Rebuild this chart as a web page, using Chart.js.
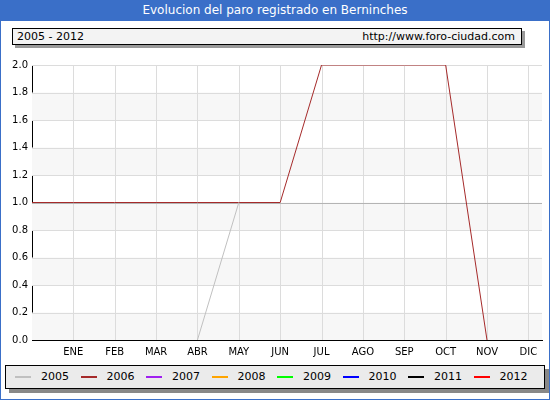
<!DOCTYPE html>
<html>
<head>
<meta charset="utf-8">
<script src="https://cdn.jsdelivr.net/npm/chart.js@4"></script>
<style>
  body { margin: 0; width: 550px; height: 400px; position: relative; font-family: "DejaVu Sans", Verdana, sans-serif; background: #fff; overflow: hidden; }
  #frame { position: absolute; left: 0; top: 0; width: 548px; height: 398px; border: 1px solid #3a6fc8; }
  #title { position: absolute; left: 0; top: 0; width: 550px; height: 21px; background: #3a6fc8; color: #fff; font-size: 12px; text-align: center; line-height: 21px; }
  #head { position: absolute; left: 12px; top: 28px; width: 508px; height: 15px; border: 1px solid #000; background: #f3f3f3; font-size: 11px; line-height: 15px; box-shadow: 3px 3px 0 #999; }
  #head span { position: absolute; top: 0; }
  #legend { position: absolute; left: 5px; top: 365px; width: 538px; height: 22px; border: 1px solid #000; background: #ebebeb; font-size: 11px; box-shadow: 4px 4px 0 #888; }
  .it { position: absolute; top: 5px; line-height: 12px; }
  .it i { display: inline-block; width: 16px; height: 2px; vertical-align: middle; margin-right: 10px; }
  #myChart { position: absolute; left: 0; top: 55px; }
</style>
</head>
<body>
<div id="frame"></div>
<div id="title">Evolucion del paro registrado en Berninches</div>
<div id="head"><span style="left:4px">2005 - 2012</span><span style="right:6px">http://www.foro-ciudad.com</span></div>
<canvas id="myChart" width="550" height="310" style="width:550px;height:310px"></canvas>
<div id="legend"></div>
<script>
const MONTHS = ['', 'ENE', 'FEB', 'MAR', 'ABR', 'MAY', 'JUN', 'JUL', 'AGO', 'SEP', 'OCT', 'NOV', 'DIC'];
const YEARS = ['2005', '2006', '2007', '2008', '2009', '2010', '2011', '2012'];
const COLORS = ['#c0c0c0', '#a52a2a', '#a020f0', '#ffa500', '#00ff00', '#0000ff', '#000000', '#ff0000'];
const S2005 = [null, null, null, null, 0, 1, null, null, null, null, null, null, null];
const S2006 = [1, 1, 1, 1, 1, 1, 1, 2, 2, 2, 2, 0, null];
const SERIES = [S2005, S2006, [], [], [], [], [], []];

let leg = document.getElementById('legend');
YEARS.forEach((y, i) => {
    let d = document.createElement('div');
    d.className = 'it';
    d.style.left = (9 + i * 65.5) + 'px';
    d.innerHTML = '<i style="background:' + COLORS[i] + '"></i>' + y;
    leg.appendChild(d);
});

const bands = {
    id: 'bands',
    beforeDatasetsDraw(chart) {
        let c = chart.ctx, a = chart.chartArea, ys = chart.scales.y;
        c.save();
        for (let v = 0; v < 2; v += 0.4) {
            let t = ys.getPixelForValue(v + 0.2), b = ys.getPixelForValue(v);
            c.fillStyle = '#f7f7f7';
            c.fillRect(a.left, t, a.right - a.left, b - t);
        }
        c.strokeStyle = '#dcdcdc';
        c.beginPath();
        for (let i = 1; i <= 12; i++) {
            let x = Math.round(chart.scales.x.getPixelForValue(i)) + 0.5;
            c.moveTo(x, a.top); c.lineTo(x, a.bottom);
        }
        for (let v = 0.2; v < 2.01; v += 0.2) {
            let y = Math.round(ys.getPixelForValue(v)) + 0.5;
            c.moveTo(a.left, y); c.lineTo(a.right, y);
        }
        c.stroke();
        c.strokeStyle = '#b4b4b4';
        c.beginPath();
        let y1 = Math.round(ys.getPixelForValue(1)) + 0.5;
        c.moveTo(a.left, y1); c.lineTo(a.right, y1);
        c.stroke();
        c.restore();
    }
};

let ctx = document.getElementById('myChart').getContext('2d');
let chart = new Chart(ctx, {
    type: 'line',
    data: {
        datasets: YEARS.map((y, i) => ({
            label: y,
            borderColor: COLORS[i],
            borderWidth: 1,
            pointRadius: 0,
            spanGaps: false,
            data: SERIES[i].map((v, k) => ({ x: k, y: v }))
        }))
    },
    options: {
        responsive: false,
        animation: false,
        devicePixelRatio: 1,
        layout: { padding: { top: 5, right: 8, left: 0, bottom: 0 } },
        plugins: { legend: { display: false }, tooltip: { enabled: false } },
        scales: {
            x: {
                type: 'linear', min: 0, max: 12.33,
                afterBuildTicks: s => { s.ticks = MONTHS.map((m, k) => ({ value: k })); },
                afterFit: s => { s.height = 25; },
                grid: { display: false, drawTicks: false },
                border: { color: '#000' },
                ticks: { autoSkip: false, maxRotation: 0, padding: 6, color: '#000', font: { family: 'DejaVu Sans', size: 10 }, callback: v => MONTHS[v] }
            },
            y: {
                min: 0, max: 2,
                afterFit: s => { s.width = 32; },
                grid: { display: false, drawTicks: false },
                border: { color: '#000' },
                ticks: { stepSize: 0.2, color: '#000', padding: 4, font: { family: 'DejaVu Sans', size: 10 }, callback: v => v.toFixed(1) }
            }
        }
    },
    plugins: [bands]
});
</script>
</body>
</html>
